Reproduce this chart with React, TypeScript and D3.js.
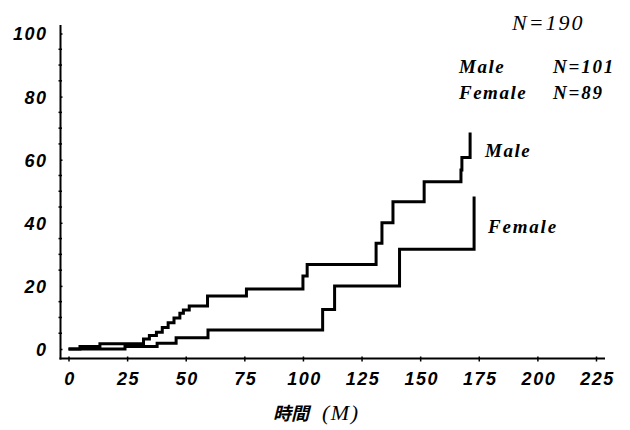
import React, { useEffect, useRef } from 'react';
import * as d3 from 'd3';

// cumulative incidence (%), time in months
const maleTime = [0, 4.9, 13.4, 32, 34.5, 37.5, 40, 42.5, 45, 47.5, 49, 51.5, 59.3, 75.9, 100, 101.8, 131.2, 133.7, 138.4, 151.7, 167.4, 167.8, 171.3];
const maleValue = [0, 0.8, 1.7, 3.2, 4.3, 5.3, 6.8, 8.3, 9.8, 11.3, 12.4, 13.6, 16.8, 19.0, 23.1, 26.8, 33.5, 40.0, 46.7, 53.0, 56.7, 60.7, 68.6];

const femaleTime = [0, 24.1, 37.8, 45.9, 59.5, 108.4, 113.5, 141.2, 173.0];
const femaleValue = [0, 0.8, 1.8, 3.6, 6.0, 12.5, 20.0, 31.6, 48.3];

const xTicks = [0, 25, 50, 75, 100, 125, 150, 175, 200, 225];
const yTicks = [0, 20, 40, 60, 80, 100];

function drawChart(node: SVGSVGElement) {
  const svg = d3.select(node);
  svg.selectAll('*').remove();

  const xScale = d3.scaleLinear().domain([0, 225]).range([68.5, 596]);
  const yScale = d3.scaleLinear().domain([0, 100]).range([349, 33.5]);

  const axisX = 60.5;
  const axisY = 358.5;

  // axis lines
  svg.append('line')
    .attr('x1', axisX).attr('x2', axisX)
    .attr('y1', 25).attr('y2', axisY + 1)
    .attr('stroke', '#000').attr('stroke-width', 2);
  svg.append('line')
    .attr('x1', axisX - 1).attr('x2', 605)
    .attr('y1', axisY).attr('y2', axisY)
    .attr('stroke', '#000').attr('stroke-width', 2);

  const tickFont = '"Liberation Sans", Arial, sans-serif';

  // Y-Axis ticks
  const yAxis = d3.axisLeft(yScale)
    .tickValues(yTicks)
    .tickSize(4)
    .tickPadding(9)
    .tickFormat(d => String(d));
  const gy = svg.append('g')
    .attr('transform', `translate(${axisX},0)`)
    .call(yAxis);
  gy.select('.domain').remove();
  gy.selectAll('.tick line').attr('x2', 2).attr('stroke-width', 1.5);
  gy.selectAll('text')
    .attr('dy', '0.36em')
    .style('font-family', tickFont)
    .style('font-style', 'italic')
    .style('font-weight', 'bold')
    .style('font-size', '18px')
    .style('letter-spacing', '1.5px')
    .attr('fill', '#000');

  // minor y ticks
  svg.append('g').selectAll('line')
    .data(d3.range(5, 100, 5).filter(v => v % 20 !== 0))
    .enter().append('line')
    .attr('x1', axisX - 2).attr('x2', axisX + 1.5)
    .attr('y1', d => yScale(d)).attr('y2', d => yScale(d))
    .attr('stroke', '#000').attr('stroke-width', 1.5);

  // X-Axis ticks
  const xAxis = d3.axisBottom(xScale)
    .tickValues(xTicks)
    .tickSize(3)
    .tickPadding(7)
    .tickFormat(d => String(d));
  const gx = svg.append('g')
    .attr('transform', `translate(0,${axisY})`)
    .call(xAxis);
  gx.select('.domain').remove();
  gx.selectAll('.tick line').attr('y1', -2).attr('stroke-width', 1.5);
  gx.selectAll('text')
    .attr('dy', '0.9em')
    .attr('dx', '1px')
    .style('font-family', tickFont)
    .style('font-style', 'italic')
    .style('font-weight', 'bold')
    .style('font-size', '18px')
    .style('letter-spacing', '1.5px')
    .attr('fill', '#000');

  // curves
  const line = d3.line<[number, number]>()
    .x(d => xScale(d[0]))
    .y(d => yScale(d[1]))
    .curve(d3.curveStepAfter);

  const male: [number, number][] = maleTime.map((t, i) => [t, maleValue[i]]);
  const female: [number, number][] = femaleTime.map((t, i) => [t, femaleValue[i]]);

  svg.append('path')
    .attr('d', line(female))
    .attr('fill', 'none').attr('stroke', '#000').attr('stroke-width', 3);
  svg.append('path')
    .attr('d', line(male))
    .attr('fill', 'none').attr('stroke', '#000').attr('stroke-width', 3);

  const serif = '"Liberation Serif", "Times New Roman", serif';

  const label = (x: number, y: number, s: string, size: number, bold: boolean, spacing: number) =>
    svg.append('text')
      .attr('x', x).attr('y', y)
      .style('font-family', serif).style('font-style', 'italic')
      .style('font-weight', bold ? 'bold' : 'normal')
      .style('font-size', `${size}px`)
      .style('letter-spacing', `${spacing}px`)
      .text(s);

  // curve labels
  label(485, 157, 'Male', 19, true, 1.5);
  label(488, 233, 'Female', 19, true, 1.8);

  // legend
  label(512, 30, 'N=190', 22, false, 2);
  label(459, 73, 'Male', 19, true, 1.5);
  label(553, 73, 'N=101', 19, true, 1.8);
  label(459, 99, 'Female', 19, true, 1.5);
  label(553, 99, 'N=89', 19, true, 1.8);

  // x label
  svg.append('text')
    .attr('x', 273).attr('y', 420)
    .style('font-family', '"Noto Sans CJK JP", sans-serif').style('font-style', 'italic').style('font-weight', 'bold')
    .style('font-size', '18px')
    .text('時間');
  label(322, 420, '(M)', 22, false, 1.5);

  return svg.node();
}

const App = () => {
  const ref = useRef<SVGSVGElement>(null);
  useEffect(() => {
    if (ref.current) drawChart(ref.current);
  }, []);
  return (
    <svg ref={ref} width={630} height={430}
      style={{ position: 'absolute', left: 0, top: 0, background: '#fff' }} />
  );
};

export default App;
